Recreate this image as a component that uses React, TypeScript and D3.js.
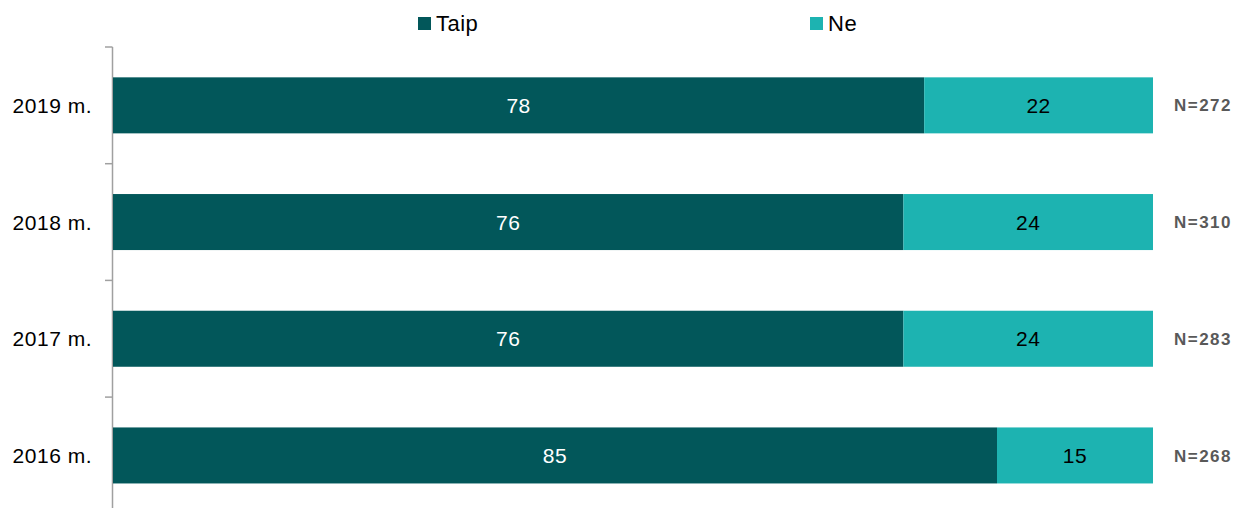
import { useEffect, useRef } from "react";
import * as d3 from "d3";

const categories = ["2019 m.", "2018 m.", "2017 m.", "2016 m."];
const taip = [78, 76, 76, 85];
const ne = [22, 24, 24, 15];
const nLabels = ["N=272", "N=310", "N=283", "N=268"];
const seriesNames = ["Taip", "Ne"];
const colors = ["#02575A", "#1DB3B1"];

export default function App() {
  const ref = useRef<SVGSVGElement>(null);

  useEffect(() => {
    const svg = d3.select(ref.current);
    svg.selectAll("*").remove();

    const width = 1239;
    const height = 508;
    const font = "'Liberation Sans', Arial, sans-serif";

    const x = d3.scaleLinear().domain([0, 100]).range([113, 1153]);
    const y = d3
      .scaleBand<string>()
      .domain(categories)
      .range([47, 47 + 116.7 * categories.length])
      .paddingInner(0.52)
      .paddingOuter(0.26);

    const rows = categories.map((c, i) => ({ c, taip: taip[i], ne: ne[i], n: nLabels[i] }));

    // axis line and ticks
    const axisColor = "#A0A0A0";
    svg
      .append("line")
      .attr("x1", 112.5)
      .attr("x2", 112.5)
      .attr("y1", 47)
      .attr("y2", height)
      .attr("stroke", axisColor)
      .attr("stroke-width", 1.5);
    const step = y.step();
    d3.range(categories.length).forEach((i) => {
      const ty = 47 + i * step;
      svg
        .append("line")
        .attr("x1", 105)
        .attr("x2", 112.5)
        .attr("y1", ty)
        .attr("y2", ty)
        .attr("stroke", axisColor)
        .attr("stroke-width", 1.5);
    });

    const g = svg.append("g");
    const row = g.selectAll("g.row").data(rows).enter().append("g").attr("class", "row");

    row
      .append("rect")
      .attr("x", x(0))
      .attr("y", (d) => y(d.c)!)
      .attr("width", (d) => x(d.taip) - x(0))
      .attr("height", y.bandwidth())
      .attr("fill", colors[0]);
    row
      .append("rect")
      .attr("x", (d) => x(d.taip))
      .attr("y", (d) => y(d.c)!)
      .attr("width", (d) => x(d.taip + d.ne) - x(d.taip))
      .attr("height", y.bandwidth())
      .attr("fill", colors[1]);

    const labelStyle = (sel: any, size: string) =>
      sel.style("font-family", font).style("font-size", size).attr("letter-spacing", "0.5px");

    labelStyle(
      row
        .append("text")
        .attr("x", (d) => (x(0) + x(d.taip)) / 2)
        .attr("y", (d) => y(d.c)! + y.bandwidth() / 2)
        .attr("dy", "0.36em")
        .attr("text-anchor", "middle")
        .attr("fill", "#fff")
        .text((d) => d.taip),
      "21px"
    );
    labelStyle(
      row
        .append("text")
        .attr("x", (d) => (x(d.taip) + x(d.taip + d.ne)) / 2)
        .attr("y", (d) => y(d.c)! + y.bandwidth() / 2)
        .attr("dy", "0.36em")
        .attr("text-anchor", "middle")
        .attr("fill", "#000")
        .text((d) => d.ne),
      "21px"
    );

    labelStyle(
      row
        .append("text")
        .attr("x", 92)
        .attr("y", (d) => y(d.c)! + y.bandwidth() / 2)
        .attr("dy", "0.36em")
        .attr("text-anchor", "end")
        .attr("fill", "#000")
        .text((d) => d.c),
      "21px"
    );

    row
      .append("text")
      .attr("x", 1203)
      .attr("y", (d) => y(d.c)! + y.bandwidth() / 2)
      .attr("dy", "0.36em")
      .attr("text-anchor", "middle")
      .attr("fill", "#595959")
      .attr("font-weight", "bold")
      .attr("letter-spacing", "1.5px")
      .style("font-family", font)
      .style("font-size", "17px")
      .text((d) => d.n);

    // legend
    const legendX = [418, 810];
    seriesNames.forEach((s, i) => {
      svg
        .append("rect")
        .attr("x", legendX[i])
        .attr("y", 17)
        .attr("width", 13)
        .attr("height", 13)
        .attr("fill", colors[i]);
      svg
        .append("text")
        .attr("x", legendX[i] + 18)
        .attr("y", 23.5)
        .attr("dy", "0.36em")
        .attr("fill", "#000")
        .attr("letter-spacing", "0.5px")
        .style("font-family", font)
        .style("font-size", "22px")
        .text(s);
    });

    svg.attr("width", width).attr("height", height);
  }, []);

  return (
    <svg
      ref={ref}
      width={1239}
      height={508}
      style={{ position: "absolute", left: 0, top: 0, display: "block" }}
    />
  );
}
